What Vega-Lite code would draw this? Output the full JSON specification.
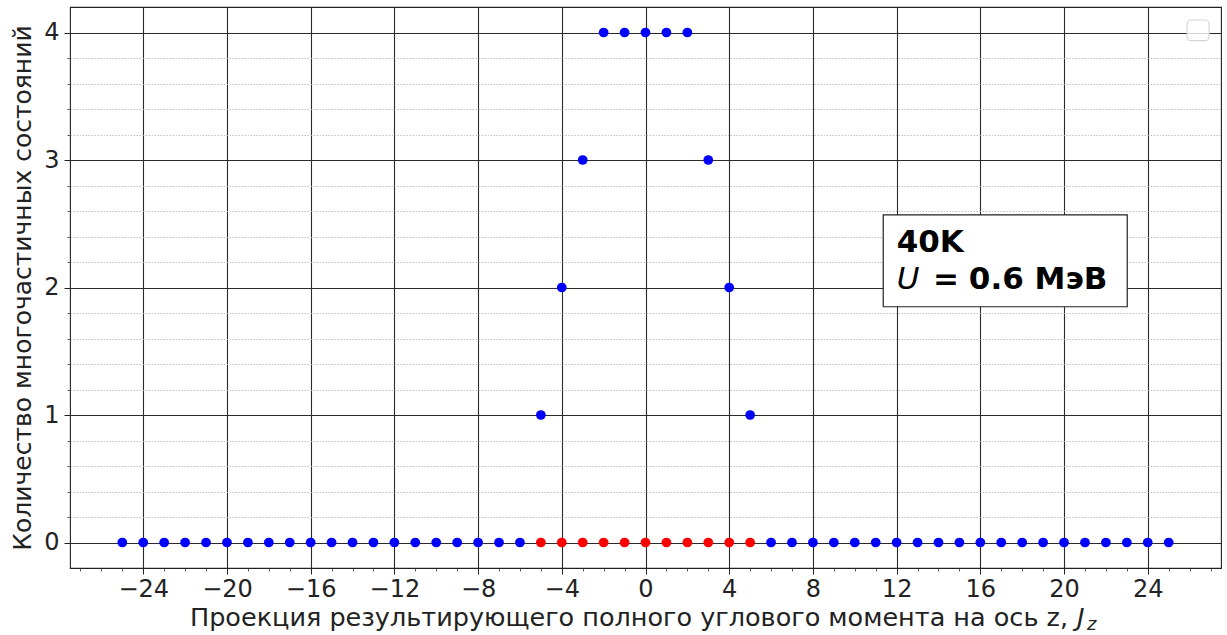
{
  "$schema": "https://vega.github.io/schema/vega-lite/v6.json",
  "width": 1151,
  "height": 561,
  "autosize": {"type": "none"},
  "padding": {"left": 70, "top": 7, "right": 6, "bottom": 67},
  "background": "white",
  "config": {
    "view": {"stroke": "#222", "strokeWidth": 1.1},
    "font": "DejaVu Sans",
    "axis": {"domain": false, "labelFont": "DejaVu Sans", "titleFont": "DejaVu Sans"}
  },
  "resolve": {"axis": {"x": "independent", "y": "independent"}},
  "data": {
    "values": [
      {"Jz": -25, "n": 0, "s": "b"}, {"Jz": -24, "n": 0, "s": "b"}, {"Jz": -23, "n": 0, "s": "b"},
      {"Jz": -22, "n": 0, "s": "b"}, {"Jz": -21, "n": 0, "s": "b"}, {"Jz": -20, "n": 0, "s": "b"},
      {"Jz": -19, "n": 0, "s": "b"}, {"Jz": -18, "n": 0, "s": "b"}, {"Jz": -17, "n": 0, "s": "b"},
      {"Jz": -16, "n": 0, "s": "b"}, {"Jz": -15, "n": 0, "s": "b"}, {"Jz": -14, "n": 0, "s": "b"},
      {"Jz": -13, "n": 0, "s": "b"}, {"Jz": -12, "n": 0, "s": "b"}, {"Jz": -11, "n": 0, "s": "b"},
      {"Jz": -10, "n": 0, "s": "b"}, {"Jz": -9, "n": 0, "s": "b"}, {"Jz": -8, "n": 0, "s": "b"},
      {"Jz": -7, "n": 0, "s": "b"}, {"Jz": -6, "n": 0, "s": "b"},
      {"Jz": -5, "n": 0, "s": "r"}, {"Jz": -4, "n": 0, "s": "r"}, {"Jz": -3, "n": 0, "s": "r"},
      {"Jz": -2, "n": 0, "s": "r"}, {"Jz": -1, "n": 0, "s": "r"}, {"Jz": 0, "n": 0, "s": "r"},
      {"Jz": 1, "n": 0, "s": "r"}, {"Jz": 2, "n": 0, "s": "r"}, {"Jz": 3, "n": 0, "s": "r"},
      {"Jz": 4, "n": 0, "s": "r"}, {"Jz": 5, "n": 0, "s": "r"},
      {"Jz": 6, "n": 0, "s": "b"}, {"Jz": 7, "n": 0, "s": "b"}, {"Jz": 8, "n": 0, "s": "b"},
      {"Jz": 9, "n": 0, "s": "b"}, {"Jz": 10, "n": 0, "s": "b"}, {"Jz": 11, "n": 0, "s": "b"},
      {"Jz": 12, "n": 0, "s": "b"}, {"Jz": 13, "n": 0, "s": "b"}, {"Jz": 14, "n": 0, "s": "b"},
      {"Jz": 15, "n": 0, "s": "b"}, {"Jz": 16, "n": 0, "s": "b"}, {"Jz": 17, "n": 0, "s": "b"},
      {"Jz": 18, "n": 0, "s": "b"}, {"Jz": 19, "n": 0, "s": "b"}, {"Jz": 20, "n": 0, "s": "b"},
      {"Jz": 21, "n": 0, "s": "b"}, {"Jz": 22, "n": 0, "s": "b"}, {"Jz": 23, "n": 0, "s": "b"},
      {"Jz": 24, "n": 0, "s": "b"}, {"Jz": 25, "n": 0, "s": "b"},
      {"Jz": -5, "n": 1, "s": "b"}, {"Jz": 5, "n": 1, "s": "b"},
      {"Jz": -4, "n": 2, "s": "b"}, {"Jz": 4, "n": 2, "s": "b"},
      {"Jz": -3, "n": 3, "s": "b"}, {"Jz": 3, "n": 3, "s": "b"},
      {"Jz": -2, "n": 4, "s": "b"}, {"Jz": -1, "n": 4, "s": "b"}, {"Jz": 0, "n": 4, "s": "b"},
      {"Jz": 1, "n": 4, "s": "b"}, {"Jz": 2, "n": 4, "s": "b"}
    ]
  },
  "layer": [
    {
      "mark": {"type": "point", "opacity": 0},
      "encoding": {
        "x": {
          "field": "Jz", "type": "quantitative",
          "scale": {"domain": [-27.5, 27.5], "nice": false, "zero": false},
          "axis": {
            "orient": "bottom",
            "values": [-27,-26,-25,-24,-23,-22,-21,-20,-19,-18,-17,-16,-15,-14,-13,-12,-11,-10,-9,-8,-7,-6,-5,-4,-3,-2,-1,0,1,2,3,4,5,6,7,8,9,10,11,12,13,14,15,16,17,18,19,20,21,22,23,24,25,26,27],
            "grid": false, "labels": false, "ticks": true, "tickSize": 3, "tickColor": "#333", "tickWidth": 0.8,
            "title": null
          }
        },
        "y": {
          "field": "n", "type": "quantitative",
          "scale": {"domain": [-0.2, 4.2], "nice": false, "zero": false},
          "axis": {
            "orient": "left",
            "values": [0.2,0.4,0.6,0.8,1.2,1.4,1.6,1.8,2.2,2.4,2.6,2.8,3.2,3.4,3.6,3.8],
            "grid": true, "gridColor": "#b0b0b0", "gridDash": [1.5, 1.5], "gridWidth": 0.8,
            "labels": false, "ticks": true, "tickSize": 3, "tickColor": "#333", "tickWidth": 0.8,
            "title": null
          }
        }
      }
    },
    {
      "mark": {"type": "point", "filled": true, "opacity": 1, "size": 95},
      "encoding": {
        "x": {
          "field": "Jz", "type": "quantitative",
          "scale": {"domain": [-27.5, 27.5], "nice": false, "zero": false},
          "axis": {
            "orient": "bottom",
            "values": [-24,-20,-16,-12,-8,-4,0,4,8,12,16,20,24],
            "grid": true, "gridColor": "#2a2a2a", "gridWidth": 1.1,
            "tickSize": 6, "tickColor": "#222", "tickWidth": 1,
            "labelFontSize": 24, "labelColor": "#222", "labelPadding": 3,
            "title": null
          }
        },
        "y": {
          "field": "n", "type": "quantitative",
          "scale": {"domain": [-0.2, 4.2], "nice": false, "zero": false},
          "axis": {
            "orient": "left",
            "values": [0, 1, 2, 3, 4],
            "grid": true, "gridColor": "#2a2a2a", "gridWidth": 1.1,
            "tickSize": 6, "tickColor": "#222", "tickWidth": 1,
            "labelFontSize": 24, "labelColor": "#222", "labelPadding": 5,
            "title": "Количество многочастичных состояний",
            "titleFontSize": 25, "titleFontWeight": "normal", "titleColor": "#222", "titlePadding": 8
          }
        },
        "color": {
          "field": "s", "type": "nominal",
          "scale": {"domain": ["b", "r"], "range": ["#0000ff", "#ff0000"]},
          "legend": null
        }
      }
    },
    {
      "data": {"values": [{}]},
      "mark": {"type": "rect", "fill": "white", "stroke": "#222", "strokeWidth": 1.2},
      "encoding": {
        "x": {"datum": 11.36, "type": "quantitative", "axis": null},
        "x2": {"datum": 23.02},
        "y": {"datum": 2.569, "type": "quantitative", "axis": null},
        "y2": {"datum": 1.849}
      }
    },
    {
      "data": {"values": [{}]},
      "mark": {"type": "rect", "fill": "white", "fillOpacity": 0.8, "stroke": "#d6d6d6", "strokeWidth": 1.2, "cornerRadius": 4},
      "encoding": {
        "x": {"datum": 25.88, "type": "quantitative", "axis": null},
        "x2": {"datum": 26.93},
        "y": {"datum": 4.098, "type": "quantitative", "axis": null},
        "y2": {"datum": 3.936}
      }
    },
    {
      "data": {"values": [{}]},
      "mark": {"type": "text", "text": "40K", "align": "left", "baseline": "alphabetic", "fontSize": 31, "fontWeight": "bold", "color": "black", "font": "DejaVu Sans"},
      "encoding": {
        "x": {"datum": 12.0, "type": "quantitative", "axis": null},
        "y": {"datum": 2.281, "type": "quantitative", "axis": null}
      }
    },
    {
      "data": {"values": [{}]},
      "mark": {"type": "text", "text": "U", "align": "left", "baseline": "alphabetic", "fontSize": 31, "fontStyle": "italic", "color": "black", "font": "DejaVu Sans"},
      "encoding": {
        "x": {"datum": 12.0, "type": "quantitative", "axis": null},
        "y": {"datum": 1.988, "type": "quantitative", "axis": null}
      }
    },
    {
      "data": {"values": [{}]},
      "mark": {"type": "text", "text": "=", "align": "left", "baseline": "alphabetic", "fontSize": 31, "fontWeight": "bold", "color": "black", "font": "DejaVu Sans"},
      "encoding": {
        "x": {"datum": 13.74, "type": "quantitative", "axis": null},
        "y": {"datum": 1.988, "type": "quantitative", "axis": null}
      }
    },
    {
      "data": {"values": [{}]},
      "mark": {"type": "text", "text": "0.6 МэВ", "align": "left", "baseline": "alphabetic", "fontSize": 31, "fontWeight": "bold", "color": "black", "font": "DejaVu Sans"},
      "encoding": {
        "x": {"datum": 15.45, "type": "quantitative", "axis": null},
        "y": {"datum": 1.988, "type": "quantitative", "axis": null}
      }
    },
    {
      "data": {"values": [{}]},
      "mark": {"type": "text", "text": "Проекция результирующего полного углового момента на ось z,", "align": "right", "baseline": "alphabetic", "fontSize": 25.5, "color": "#222", "font": "DejaVu Sans"},
      "encoding": {
        "x": {"datum": 20.19, "type": "quantitative", "axis": null},
        "y": {"datum": -0.655, "type": "quantitative", "axis": null}
      }
    },
    {
      "data": {"values": [{}]},
      "mark": {"type": "text", "text": "J", "align": "left", "baseline": "alphabetic", "fontSize": 25.5, "fontStyle": "italic", "color": "#222", "font": "DejaVu Sans", "dx": 9},
      "encoding": {
        "x": {"datum": 20.19, "type": "quantitative", "axis": null},
        "y": {"datum": -0.655, "type": "quantitative", "axis": null}
      }
    },
    {
      "data": {"values": [{}]},
      "mark": {"type": "text", "text": "z", "align": "left", "baseline": "alphabetic", "fontSize": 18, "fontStyle": "italic", "color": "#222", "font": "DejaVu Sans", "dx": 19, "dy": 4},
      "encoding": {
        "x": {"datum": 20.19, "type": "quantitative", "axis": null},
        "y": {"datum": -0.655, "type": "quantitative", "axis": null}
      }
    }
  ]
}
